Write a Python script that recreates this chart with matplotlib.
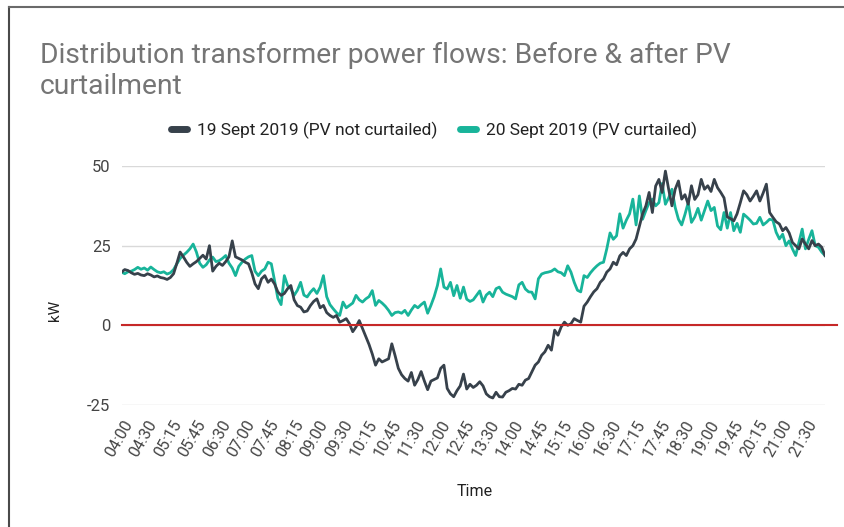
import numpy as np
import matplotlib
matplotlib.use("Agg")
import matplotlib.pyplot as plt
from matplotlib.lines import Line2D
import matplotlib.transforms as mtransforms

plt.rcParams['font.family'] = ['Roboto', 'DejaVu Sans']

# --- data (kW, 5-minute readings from 04:00 to 22:00) ---
start_hour = 4.0
step_min = 5

sept19 = [
    16.7, 17.5, 17.2, 16.5, 16.0, 16.3, 15.8, 15.6, 16.2, 15.8, 15.2, 15.5,      # 04
    15.0, 14.8, 14.4, 15.0, 16.2, 19.5, 23.0, 21.5, 19.8, 18.5, 19.3, 20.0,      # 05
    21.0, 22.0, 20.8, 25.0, 17.0, 18.5, 19.5, 18.8, 20.0, 21.5, 26.5, 21.5,      # 06
    21.0, 20.5, 19.8, 19.3, 16.5, 13.0, 11.5, 14.6, 15.6, 13.5, 14.5, 13.0,      # 07
    10.5, 9.4, 10.0, 11.5, 12.5, 8.0, 6.2, 5.7, 4.2, 4.5, 6.2, 7.5,              # 08
    8.3, 5.5, 6.25, 4.0, 3.1, 2.5, 3.1, 1.0, 1.5, 2.1, 0.5, -2.0,                # 09
    -0.5, 1.5, -1.0, -3.5, -6.0, -9.0, -12.5, -10.5, -11.5, -11.0, -10.5, -5.8,  # 10
    -9.5, -13.5, -15.5, -16.7, -17.5, -14.8, -18.8, -17.0, -14.5, -17.5, -20.2, -17.5,  # 11
    -17.0, -16.5, -13.5, -12.5, -19.8, -21.5, -22.4, -20.5, -19.0, -15.3, -20.0, -18.5,  # 12
    -19.5, -18.8, -17.7, -19.0, -21.5, -22.4, -22.8, -21.0, -22.4, -22.5, -21.0, -20.5,  # 13
    -19.8, -20.0, -18.5, -18.8, -17.2, -16.7, -14.6, -12.5, -11.5, -9.4, -8.3, -6.25,    # 14
    -7.8, -1.5, -3.1, -0.5, 1.0, 0.0, 0.5, 2.1, 1.5, 1.0, 6.0, 7.3,             # 15
    9.0, 10.5, 11.5, 13.5, 14.6, 16.7, 17.7, 19.8, 19.0, 21.8, 22.9, 21.9,       # 16
    24.0, 25.0, 27.1, 31.0, 35.0, 37.5, 41.7, 35.4, 43.7, 45.8, 41.7, 48.4,      # 17
    42.7, 37.5, 42.7, 45.3, 39.6, 41.0, 38.0, 43.8, 39.5, 41.0, 45.8, 42.7,      # 18
    43.8, 42.0, 45.8, 43.2, 41.7, 40.0, 34.0, 33.5, 32.8, 35.0, 38.5, 42.2,      # 19
    41.0, 39.0, 40.5, 42.2, 39.0, 41.5, 44.3, 35.4, 33.9, 32.5, 31.8, 29.7,      # 20
    30.7, 29.0, 26.0, 25.0, 24.0, 27.1, 25.5, 24.0, 26.6, 25.0, 25.5, 24.5,      # 21
    21.9,
]

sept20 = [
    16.7, 16.2, 16.8, 17.0, 17.5, 18.2, 17.6, 18.0, 17.3, 18.3, 17.5, 16.8,      # 04
    16.5, 16.8, 16.1, 16.5, 17.5, 19.3, 21.0, 22.0, 22.9, 24.0, 25.5, 23.0,      # 05
    19.5, 18.2, 19.0, 20.5, 21.4, 20.0, 20.3, 21.0, 21.9, 19.5, 18.0, 15.6,      # 06
    18.5, 19.8, 20.8, 21.5, 21.9, 17.0, 15.6, 17.0, 17.7, 19.8, 19.3, 14.0,      # 07
    8.5, 6.5, 15.6, 12.5, 11.5, 9.4, 11.0, 13.5, 9.5, 8.9, 10.4, 11.5,           # 08
    10.0, 12.0, 15.6, 9.0, 6.5, 5.2, 4.0, 3.1, 7.3, 5.5, 6.25, 7.0,              # 09
    9.4, 8.0, 7.3, 8.3, 9.0, 10.9, 6.25, 7.8, 7.0, 6.0, 4.7, 3.1,                # 10
    4.0, 4.2, 3.8, 4.7, 3.1, 4.8, 6.25, 5.5, 6.5, 7.3, 3.8, 6.25,                # 11
    9.0, 12.5, 17.7, 12.0, 11.4, 13.5, 9.3, 12.5, 8.5, 12.0, 8.2, 7.5,           # 12
    8.0, 9.4, 10.8, 7.3, 9.5, 10.4, 9.0, 11.5, 12.0, 10.4, 9.8, 9.4,             # 13
    9.0, 8.3, 12.7, 13.5, 11.4, 10.5, 10.4, 8.3, 14.6, 16.1, 16.5, 16.7,         # 14
    17.0, 17.7, 16.8, 16.5, 15.6, 18.7, 16.7, 13.5, 11.0, 10.5, 15.6, 15.0,      # 15
    16.5, 17.7, 18.7, 19.5, 19.8, 24.0, 29.0, 27.0, 28.1, 35.0, 30.5, 33.0,      # 16
    35.0, 39.6, 31.5, 40.6, 33.3, 36.0, 38.5, 39.6, 37.5, 38.5, 44.5, 38.0,      # 17
    40.0, 42.7, 37.0, 33.3, 31.5, 34.8, 38.5, 32.3, 34.0, 36.7, 33.0, 36.0,      # 18
    39.0, 36.0, 37.0, 31.2, 30.0, 35.4, 30.5, 35.4, 29.7, 32.0, 29.2, 34.9,      # 19
    34.0, 33.0, 31.8, 32.0, 33.9, 31.5, 32.3, 33.3, 33.0, 29.2, 27.1, 28.6,      # 20
    25.0, 26.5, 24.0, 21.9, 26.0, 30.2, 24.0, 27.0, 29.7, 25.0, 24.5, 23.0,      # 21
    21.9,
]

tick_labels = ["04:00", "04:30", "05:15", "05:45", "06:30", "07:00", "07:45",
               "08:15", "09:00", "09:30", "10:15", "10:45", "11:30", "12:00",
               "12:45", "13:30", "14:00", "14:45", "15:15", "16:00", "16:30",
               "17:15", "17:45", "18:30", "19:00", "19:45", "20:15", "21:00",
               "21:30"]
y_ticks = [-25, 0, 25, 50]
threshold = 0

series_names = ["19 Sept 2019 (PV not curtailed)", "20 Sept 2019 (PV curtailed)"]
dark = "#37414b"
teal = "#18b49a"
red = "#c62828"

hours = start_hour + np.arange(len(sept19)) * step_min / 60.0
tick_pos = start_hour + np.arange(len(tick_labels)) * 0.625

W, H = 844, 527
fig = plt.figure(figsize=(W / 100, H / 100), dpi=100)
ax = fig.add_axes([121.5 / W, 1 - 405 / H, (825 - 121.5) / W, (405 - 166) / H])

ax.plot(hours, sept19, color=dark, lw=2.0, zorder=3, solid_joinstyle="round")
ax.plot(hours, sept20, color=teal, lw=2.0, zorder=2, solid_joinstyle="round")
ax.axhline(threshold, xmin=0, xmax=1.017, color=red, lw=1.5, zorder=4, clip_on=False)

ax.set_xlim(hours[0], hours[-1])
ax.set_ylim(-25, 50)
ax.set_yticks(y_ticks)
ax.set_yticklabels([str(v) for v in y_ticks], fontsize=12, color="#444444")
ax.set_xticks(tick_pos)
ax.set_xticklabels([])
ax.tick_params(length=0)
ax.tick_params(axis="y", pad=8)
ax.grid(axis="y", color="#d9d9d9", lw=1.0)
ax.grid(axis="x", visible=False)
for s in ax.spines.values():
    s.set_visible(False)

# slanted time labels, nudged right like the sheet's labels
lab_tr = ax.get_xaxis_transform() + mtransforms.ScaledTranslation(
    14 / 100, -12.5 / 100, fig.dpi_scale_trans)
for pos, lab in zip(tick_pos, tick_labels):
    ax.text(pos, 0, lab, transform=lab_tr, rotation=60, ha="right", va="top",
            fontsize=11.5, color="#444444")

fig.text(40 / W, 1 - 55 / H, "Distribution transformer power flows: Before & after PV",
         fontsize=20.3, color="#757575", va="center", ha="left")
fig.text(40 / W, 1 - 86 / H, "curtailment",
         fontsize=20.3, color="#757575", va="center", ha="left")

handles = [Line2D([0], [0], color=dark, lw=5, solid_capstyle="round"),
           Line2D([0], [0], color=teal, lw=5, solid_capstyle="round")]
fig.legend(handles, series_names, loc="center", bbox_to_anchor=(434 / W, 1 - 130 / H),
           ncol=2, frameon=False, fontsize=12.5, handlelength=0.9,
           columnspacing=1.3, handletextpad=0.6, labelcolor="#222222")

fig.text(55 / W, 1 - 310 / H, "kW", rotation=90, fontsize=11, color="#222222",
         ha="center", va="center")
fig.text(475 / W, 1 - 492 / H, "Time", fontsize=11.5, color="#222222",
         ha="center", va="center")

# screenshot frame on the top and left edges
fig.add_artist(Line2D([9 / W, 9 / W], [0, 1 - 7 / H], color="#4a4a4a", lw=1.5))
fig.add_artist(Line2D([9 / W, 1], [1 - 7 / H, 1 - 7 / H], color="#6a6a6a", lw=1.5))

fig.savefig("out.png", dpi=100)
